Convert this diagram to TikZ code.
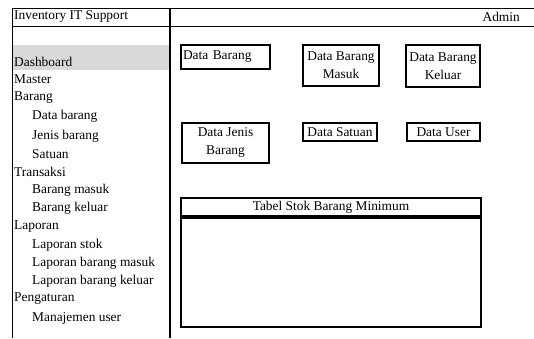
\documentclass[tikz,border=0pt]{standalone}
\usepackage{fontspec}
\setmainfont{Liberation Serif}
\usetikzlibrary{positioning}

\begin{document}
\begin{tikzpicture}[x=1pt, y=-1pt,
    teks/.style={inner sep=0pt, font=\fontsize{13.4}{18}\selectfont},
    menu/.style={teks, anchor=west},
    kotak/.style={draw, line width=1.9pt, inner sep=1pt, align=center, font=\fontsize{13.4}{18}\selectfont}]
    \useasboundingbox (0,0) rectangle (534,338);

    % Kerangka
    \fill[gray!30] (12,45) rectangle (170,70);
    \draw[line width=0.9pt] (12,338) -- (12,8) -- (534,8);
    \draw[line width=0.9pt] (12,26) -- (534,26);
    \draw[line width=1.8pt] (170,8) -- (170,338);

    % Header
    \node[menu] (judul) at (14,17) {Inventory IT Support};
    \node[teks, anchor=east] (admin) at (520,17) {Admin};

    % Menu
    \node[menu] (dashboard) at (14,62) {Dashboard};
    \node[menu] (master) at (14,79) {Master};
    \node[menu] (barang) at (14,98) {Barang};
    \node[menu] (databarang) at (32,116) {Data barang};
    \node[menu] (jenisbarang) at (32,136) {Jenis barang};
    \node[menu] (satuan) at (32,154) {Satuan};
    \node[menu] (transaksi) at (14,172) {Transaksi};
    \node[menu] (brgmasuk) at (32,190) {Barang masuk};
    \node[menu] (brgkeluar) at (32,208) {Barang keluar};
    \node[menu] (laporan) at (14,227) {Laporan};
    \node[menu] (lapstok) at (32,245) {Laporan stok};
    \node[menu] (lapmasuk) at (32,263) {Laporan barang masuk};
    \node[menu] (lapkeluar) at (32,281) {Laporan barang keluar};
    \node[menu] (pengaturan) at (14,299) {Pengaturan};
    \node[menu] (manuser) at (32,318) {Manajemen user};

    % Kotak data
    \node[kotak, minimum width=89pt, minimum height=24pt, text width=85pt, align=left] (kbarang) at (225.5,57) {Data Barang};
    \node[kotak, minimum width=76pt, minimum height=41pt] (kmasuk) at (341,65.5) {Data Barang\\Masuk};
    \node[kotak, minimum width=74pt, minimum height=42pt] (kkeluar) at (443,66) {Data Barang\\Keluar};
    \node[kotak, minimum width=87pt, minimum height=40pt] (kjenis) at (225.5,143) {Data Jenis\\Barang};
    \node[kotak, minimum width=74pt, minimum height=18pt] (ksatuan) at (340,132) {Data Satuan};
    \node[kotak, minimum width=73pt, minimum height=18pt] (kuser) at (443.5,132) {Data User};

    % Tabel
    \node[kotak, minimum width=300pt, minimum height=18pt, anchor=north] (tjudul) at (331,197) {Tabel Stok Barang Minimum};
    \node[kotak, minimum width=300pt, minimum height=109pt, anchor=north] (tabel) at (tjudul.south) {};
\end{tikzpicture}
\end{document}
